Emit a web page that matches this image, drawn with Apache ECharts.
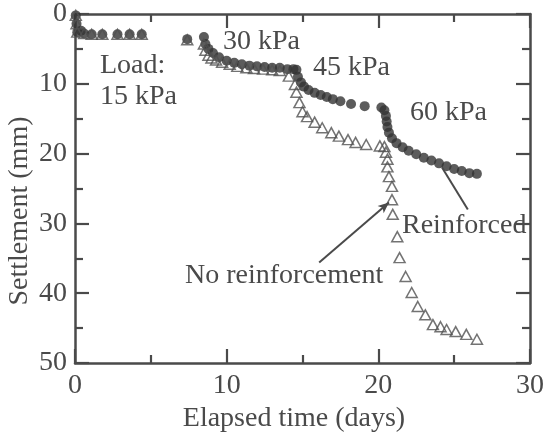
<!DOCTYPE html>
<html>
<head>
<meta charset="utf-8">
<script src="https://cdn.jsdelivr.net/npm/echarts@6/dist/echarts.min.js"></script>
<style>
  html, body { margin: 0; padding: 0; background: #ffffff; }
  #chart { width: 547px; height: 441px; }
</style>
</head>
<body>
<div id="chart"></div>
<script>
// Settlement (mm) against elapsed time (days) under staged loading.
// Reinforced section: [day, settlement]
const reinforced = [
  [0.05, 0.2], [0.1, 1.4], [0.15, 2.6], [0.4, 2.4], [0.6, 2.8], [1.1, 2.9], [1.8, 2.9],
  [2.8, 2.9], [3.6, 2.9], [4.4, 2.9],
  [7.4, 3.6], [8.5, 3.3], [8.6, 4.3], [8.8, 5.0], [9.1, 5.6], [9.5, 6.2], [10.0, 6.7],
  [10.5, 7.0], [11.0, 7.2], [11.5, 7.4], [12.0, 7.5], [12.5, 7.6], [13.0, 7.7], [13.5, 7.7],
  [14.0, 7.9], [14.4, 7.9], [14.6, 8.0],
  [14.7, 9.0], [14.9, 9.8], [15.1, 10.4], [15.4, 10.9], [15.8, 11.3], [16.2, 11.6],
  [16.6, 11.9], [17.0, 12.2], [17.5, 12.5], [18.2, 12.9], [19.1, 13.2], [20.2, 13.4],
  [20.4, 13.8], [20.5, 14.6], [20.55, 15.4], [20.6, 16.2], [20.7, 17.0], [20.9, 17.8],
  [21.2, 18.5], [21.6, 19.1], [22.0, 19.6], [22.5, 20.1], [23.0, 20.6], [23.5, 21.0],
  [24.0, 21.4], [24.5, 21.8], [25.0, 22.2], [25.5, 22.5], [26.0, 22.8], [26.5, 22.9]
];
// Unreinforced section: [day, settlement]
const noReinforcement = [
  [0.05, 0.2], [0.1, 1.4], [0.15, 2.6], [0.6, 2.8], [1.1, 2.9], [1.8, 2.9], [2.8, 2.9],
  [3.6, 2.9], [4.4, 2.9],
  [7.4, 3.7], [8.5, 4.3], [8.6, 5.2], [8.8, 5.9], [9.0, 6.3], [9.3, 6.6], [9.7, 6.9],
  [10.2, 7.2], [10.7, 7.5], [11.3, 7.7], [11.8, 7.8], [12.4, 7.9], [13.0, 8.0], [13.5, 8.1],
  [14.1, 8.9], [14.5, 10.1], [14.6, 11.2], [14.8, 12.7], [15.0, 14.0], [15.3, 14.7],
  [15.8, 15.5], [16.3, 16.3], [16.9, 17.0], [17.4, 17.5], [18.0, 18.0], [18.5, 18.4],
  [19.2, 18.7], [20.1, 18.9],
  [20.4, 19.0], [20.5, 19.8], [20.6, 20.8], [20.6, 21.9], [20.7, 23.3], [20.9, 24.7],
  [20.9, 26.6], [20.95, 28.7], [21.25, 31.9], [21.4, 34.9], [21.8, 37.6], [22.2, 39.9],
  [22.6, 41.9], [23.1, 43.1], [23.6, 44.5], [24.1, 44.8], [24.5, 45.2], [25.1, 45.5],
  [25.8, 45.9], [26.5, 46.6]
];
// Tick labels
const xTicks = [0, 10, 20, 30];
const yTicks = [0, 10, 20, 30, 40, 50];
// Leader lines from the curve labels to the curves, [day, settlement]
const noReinfPointer = [[16.1, 35.6], [20.7, 27.0]];
const reinfPointer = [[24.2, 22.0], [25.9, 28.0]];

const ink = '#4a4a4a';
const serif = 'Liberation Serif, Times New Roman, serif';

const chart = echarts.init(document.getElementById('chart'), null, { renderer: 'canvas' });

function axisBase(extra) {
  return Object.assign({
    axisLine: { show: true, onZero: false, lineStyle: { color: ink, width: 2.5 } },
    axisTick: { show: true, inside: true, length: 14, lineStyle: { color: ink, width: 2.2 } },
    minorTick: { show: true, splitNumber: 2, length: 8, lineStyle: { color: ink, width: 2.2 } },
    splitLine: { show: false },
    minorSplitLine: { show: false }
  }, extra);
}

const xMin = xTicks[0], xMax = xTicks[xTicks.length - 1], xStep = xTicks[1] - xTicks[0];
const yMin = yTicks[0], yMax = yTicks[yTicks.length - 1], yStep = yTicks[1] - yTicks[0];

const text = (str, x, y, extra) => Object.assign({
  type: 'text', x: x, y: y, silent: true,
  style: { text: str, font: '28px ' + serif, fill: ink, align: 'left', verticalAlign: 'middle' }
}, extra || {});

chart.setOption({
  animation: false,
  backgroundColor: '#ffffff',
  grid: { left: 75, right: 16, top: 14, bottom: 78 },
  xAxis: [
    axisBase({
      type: 'value', min: xMin, max: xMax, interval: xStep, position: 'bottom',
      axisLabel: { show: true, margin: 9, color: ink, fontFamily: serif, fontSize: 28,
        formatter: v => (xTicks.includes(v) ? String(v) : '') }
    }),
    axisBase({
      type: 'value', min: xMin, max: xMax, interval: xStep, position: 'top',
      axisLabel: { show: false }
    })
  ],
  yAxis: [
    axisBase({
      type: 'value', inverse: true, min: yMin, max: yMax, interval: yStep, position: 'left',
      axisLabel: { show: true, margin: 8, color: ink, fontFamily: serif, fontSize: 28,
        formatter: v => (yTicks.includes(v) ? String(v) : '') }
    }),
    axisBase({
      type: 'value', inverse: true, min: yMin, max: yMax, interval: yStep, position: 'right',
      axisLabel: { show: false }
    })
  ],
  series: [
    {
      name: 'Reinforced',
      type: 'scatter',
      data: reinforced,
      symbol: 'circle',
      symbolSize: 10,
      itemStyle: { color: '#333333' },
      z: 2,
      markLine: {
        silent: true,
        symbol: ['none', 'none'],
        label: { show: false },
        lineStyle: { color: ink, width: 2, type: 'solid' },
        data: [[{ coord: reinfPointer[0] }, { coord: reinfPointer[1] }]]
      }
    },
    {
      name: 'No reinforcement',
      type: 'scatter',
      data: noReinforcement,
      symbol: 'triangle',
      symbolSize: [11, 10],
      itemStyle: { color: 'rgba(255,255,255,0)', borderColor: '#505050', borderWidth: 1.5 },
      z: 3,
      markLine: {
        silent: true,
        symbol: ['none', 'arrow'],
        symbolSize: [7, 11],
        label: { show: false },
        lineStyle: { color: ink, width: 2, type: 'solid' },
        data: [[{ coord: noReinfPointer[0] }, { coord: noReinfPointer[1] }]]
      }
    }
  ],
  graphic: [
    text('Load:', 100, 66),
    text('15 kPa', 100, 97),
    text('30 kPa', 223, 42),
    text('45 kPa', 313, 68),
    text('60 kPa', 410, 113),
    text('Reinforced', 402, 226),
    text('No reinforcement', 185, 276),
    text('Elapsed time (days)', 294, 419, { style: { text: 'Elapsed time (days)', font: '28px ' + serif, fill: ink, align: 'center', verticalAlign: 'middle' } }),
    text('Settlement (mm)', 20, 211, { rotation: Math.PI / 2, style: { text: 'Settlement (mm)', font: '28px ' + serif, fill: ink, align: 'center', verticalAlign: 'middle' } })
  ]
});
</script>
</body>
</html>
